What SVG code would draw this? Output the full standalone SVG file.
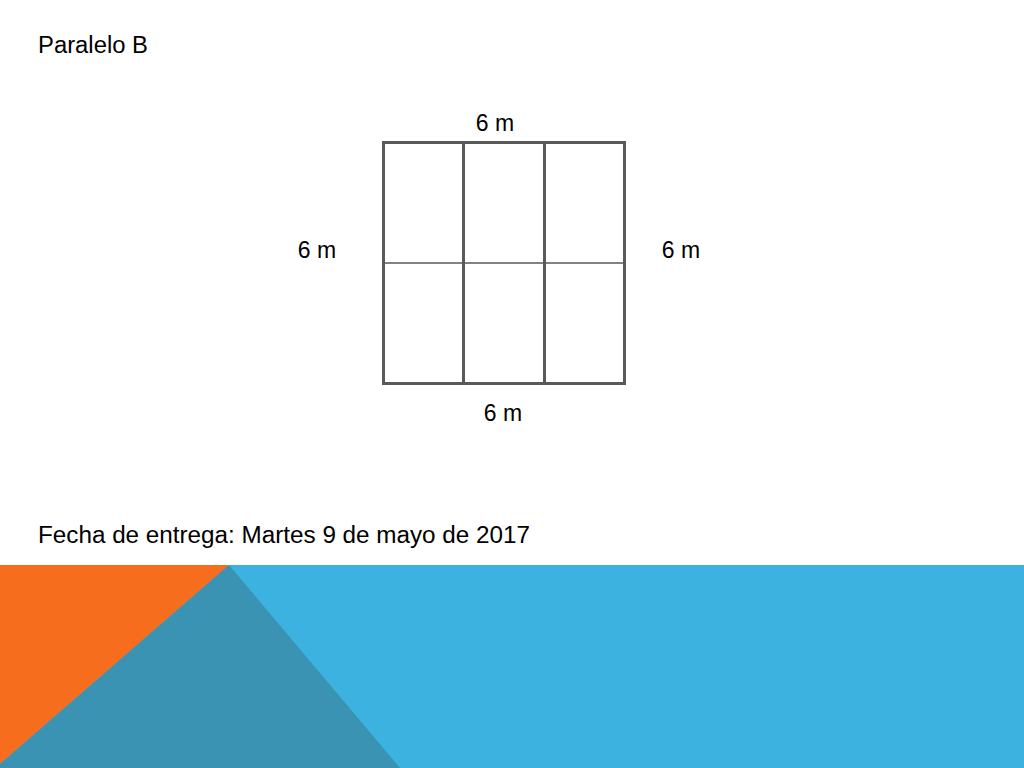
<svg xmlns="http://www.w3.org/2000/svg" width="1024" height="768" viewBox="0 0 1024 768">
<style>
.t{font-family:"Liberation Sans",Arial,sans-serif;font-size:23px;fill:#000}
.g{stroke:#595959;fill:none}
</style>
<rect width="1024" height="768" fill="#fff"/>
<g id="band">
<rect x="0" y="565" width="1024" height="203" fill="#3bb2df"/>
<polygon points="0,565 229,565 0,764" fill="#f66d1e"/>
<polygon points="229,565 400,768 0,768 0,764" fill="#3a93b3"/>
</g>
<text class="t" x="38" y="53" textLength="110" lengthAdjust="spacingAndGlyphs">Paralelo B</text>
<g id="grid">
<rect class="g" x="383.5" y="142.5" width="241" height="241" stroke-width="3"/>
<line class="g" x1="463.5" y1="142" x2="463.5" y2="384" stroke-width="3"/>
<line class="g" x1="544.5" y1="142" x2="544.5" y2="384" stroke-width="3"/>
<line class="g" x1="383" y1="263" x2="625" y2="263" stroke-width="1.5"/>
</g>
<text class="t" x="495" y="131" text-anchor="middle">6 m</text>
<text class="t" x="317" y="258" text-anchor="middle">6 m</text>
<text class="t" x="681" y="258" text-anchor="middle">6 m</text>
<text class="t" x="503" y="421" text-anchor="middle">6 m</text>
<text class="t" x="38" y="543" textLength="492" lengthAdjust="spacingAndGlyphs">Fecha de entrega: Martes 9 de mayo de 2017</text>
</svg>
